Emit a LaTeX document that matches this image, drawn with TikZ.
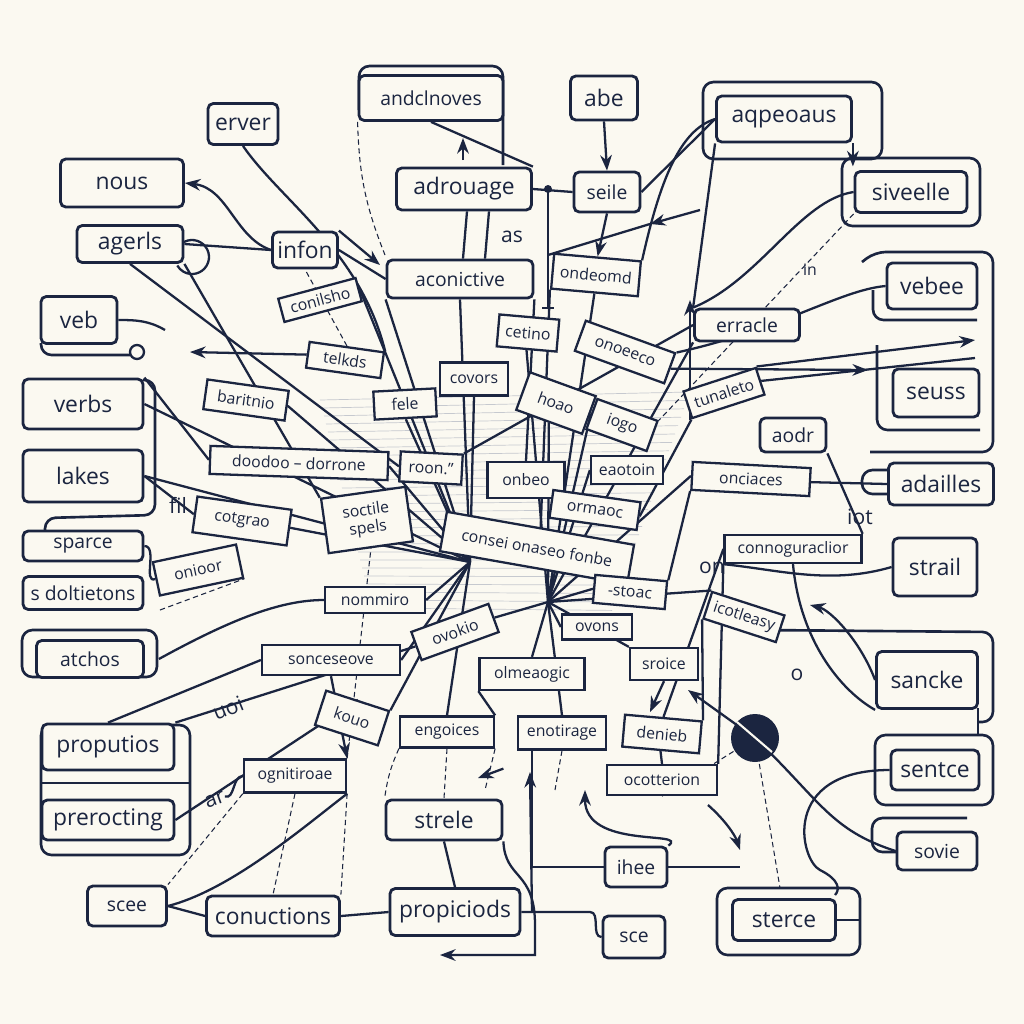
\documentclass[tikz,border=0pt]{standalone}
\usepackage{fontspec}
\setmainfont{Open Sans}
\usetikzlibrary{calc}
\usetikzlibrary{arrows.meta}

\definecolor{ink}{HTML}{1B2540}
\definecolor{paper}{HTML}{FBF9F1}

\pgfdeclarelayer{background}
\pgfsetlayers{background,main}

\tikzset{
	sz/.style 2 args={minimum width=#1*0.2mm, minimum height=#2*0.2mm},
	lbl/.style={draw=ink, text=ink, line width=1.6pt, rounded corners=3pt, fill=paper, inner sep=1pt, font=\fontsize{13}{15}\selectfont},
	mlbl/.style={lbl, font=\fontsize{11}{13}\selectfont},
	tag/.style={draw=ink, text=ink, line width=1.3pt, fill=paper, inner sep=1pt, font=\fontsize{9}{10}\selectfont},
	loose/.style={text=ink, inner sep=0pt, font=\fontsize{12}{14}\selectfont},
	frame/.style={draw=ink, line width=1.5pt, rounded corners=6pt},
	wire/.style={draw=ink, line width=1.3pt},
	faint/.style={draw=ink, line width=0.6pt, dash pattern=on 3pt off 2pt},
	hatch/.style={draw=ink!25, line width=0.4pt},
}

\begin{document}
\begin{tikzpicture}[x=0.2mm,y=-0.2mm]
	\useasboundingbox (0,0) rectangle (1024,1024);

	% left column
	\node[lbl,sz={70}{41}] (erver) at (243,124) {erver};
	\node[lbl,sz={123}{48}] (nous) at (122,183) {nous};
	\node[lbl,sz={106}{37}] (agerls) at (130,244) {agerls};
	\node[lbl,sz={65}{36}] (infon) at (305,250) {infon};
	\node[lbl,sz={76}{47}] (veb) at (79,320) {veb};
	\node[lbl,sz={120}{50}] (verbs) at (83,404) {verbs};
	\node[lbl,sz={120}{52}] (lakes) at (83,476) {lakes};
	\node[mlbl,sz={120}{30}] (sparce) at (83,546) {sparce};
	\node[mlbl,sz={120}{33}] (sdolt) at (83,593) {s doltietons};
	\node[mlbl,sz={107}{37}] (atchos) at (90,659) {atchos};
	\node[lbl,sz={132}{46}] (proputios) at (108,747) {proputios};
	\node[lbl,sz={132}{40}] (prerocting) at (108,820) {prerocting};
	\node[mlbl,sz={79}{40}] (scee) at (127,906) {scee};
	\node[lbl,sz={133}{40}] (conuctions) at (273,916) {conuctions};

	% top row
	\node[mlbl,sz={144}{45}] (andclnoves) at (431,98) {andclnoves};
	\node[lbl,sz={67}{44}] (abe) at (604,98) {abe};
	\node[lbl,sz={135}{42}] (adrouage) at (464,189) {adrouage};
	\node[mlbl,sz={66}{40}] (seile) at (607,192) {seile};
	\node[mlbl,sz={146}{38}] (aconictive) at (460,279) {aconictive};
	\node[tag,sz={87}{35},rotate=-5] (ondeomd) at (596,275) {ondeomd};
	\node[lbl,sz={135}{46}] (apopeaus) at (784,119) {aqpeoaus};
	\node[lbl,sz={112}{41}] (siveelle) at (911,192) {siveelle};

	% right column
	\node[lbl,sz={90}{46}] (vebee) at (932,286) {vebee};
	\node[lbl,sz={86}{48}] (seuss) at (936,393) {seuss};
	\node[mlbl,sz={105}{32}] (eracle) at (747,325) {erracle};
	\node[mlbl,sz={66}{34}] (aodr) at (793,435) {aodr};
	\node[lbl,sz={105}{42}] (adailles) at (941,484) {adailles};
	\node[tag,sz={118}{28},rotate=-3] (onciaces) at (751,479) {onciaces};
	\node[tag,sz={137}{28}] (connog) at (793,549) {connoguraclior};
	\node[lbl,sz={84}{58}] (strail) at (935,567) {strail};
	\node[lbl,sz={101}{57}] (sancke) at (927,680) {sancke};
	\node[lbl,sz={88}{40}] (sentce) at (935,770) {sentce};
	\node[mlbl,sz={80}{38}] (sovie) at (937,851) {sovie};
	\node[lbl,sz={103}{41}] (sterce) at (784,920) {sterce};

	% bottom
	\node[mlbl,sz={62}{42}] (sce) at (634,937) {sce};
	\node[mlbl,sz={62}{40}] (ihee) at (636,867) {ihee};
	\node[lbl,sz={130}{47}] (propiciods) at (455,912) {propiciods};
	\node[lbl,sz={116}{40}] (strele) at (444,820) {strele};
	\node[tag,sz={94}{31}] (engoices) at (447,732) {engoices};
	\node[tag,sz={88}{33}] (enotirage) at (562,733) {enotirage};
	\node[tag,sz={77}{32},rotate=-5] (denieb) at (662,734) {denieb};
	\node[tag,sz={110}{30}] (ocotterion) at (662,780) {ocotterion};
	\node[tag,sz={105}{32}] (olmeaogic) at (532,674) {olmeaogic};
	\node[tag,sz={68}{32}] (sroice) at (664,664) {sroice};
	\node[tag,sz={138}{30}] (sonceseove) at (331,660) {sonceseove};
	\node[tag,sz={102}{33}] (ognitiroae) at (295,776) {ognitiroae};
	\node[tag,sz={66}{36},rotate=-18] (kouo) at (352,718) {kouo};

	% centre
	\node[tag,sz={80}{24},rotate=15] (conilsho) at (320,300) {conilsho};
	\node[tag,sz={75}{26},rotate=-8] (teloks) at (345,360) {telkds};
	\node[tag,sz={82}{30},rotate=-8] (baritnio) at (246,400) {baritnio};
	\node[tag,sz={178}{28},rotate=-2] (doodoo) at (299,463) {doodoo -- dorrone};
	\node[tag,sz={95}{36},rotate=-8] (cotgrao) at (242,521) {cotgrao};
	\node[tag,sz={85}{34},rotate=12] (onioor) at (198,570) {onioor};
	\node[tag,sz={85}{55},rotate=8,align=center] (soctile) at (367,520) {soctile\\spels};
	\node[tag,sz={100}{26}] (nommiro) at (375,600) {nommiro};
	\node[tag,sz={62}{30},rotate=-3] (roon) at (431,468) {roon.''};
	\node[tag,sz={77}{36}] (onbeo) at (526,480) {onbeo};
	\node[tag,sz={72}{28}] (eaotoin) at (627,470) {eaotoin};
	\node[tag,sz={62}{28},rotate=3] (fele) at (405,404) {fele};
	\node[tag,sz={68}{33}] (covors) at (474,379) {covors};
	\node[tag,sz={70}{40},rotate=-20] (hoao) at (556,403) {hoao};
	\node[tag,sz={64}{32},rotate=-20] (iogo) at (622,425) {iogo};
	\node[tag,sz={60}{32},rotate=-5] (cetino) at (528,333) {cetino};
	\node[tag,sz={95}{32},rotate=-20] (onoeeco) at (625,352) {onoeeco};
	\node[tag,sz={76}{28},rotate=18] (tunaleto) at (724,393) {tunaleto};
	\node[tag,sz={88}{28},rotate=-8] (ormaoc) at (595,510) {ormaoc};
	\node[tag,sz={190}{40},rotate=-10] (consei) at (537,548) {consei onaseo fonbe};
	\node[tag,sz={72}{28},rotate=-5] (stoac) at (630,592) {-stoac};
	\node[tag,sz={70}{25}] (ovons) at (597,627) {ovons};
	\node[tag,sz={82}{30},rotate=20] (ovokio) at (455,632) {ovokio};
	\node[tag,sz={76}{28},rotate=-18] (icotleasy) at (744,617) {icotleasy};

	% loose words
	\node[loose] (as) at (512,237) {as};
	\node[loose,font=\fontsize{9}{10}\selectfont] (in) at (810,270) {in};
	\node[loose] (iot) at (860,517) {iot};
	\node[loose] (on) at (712,568) {on};
	\node[loose] (fil) at (178,505) {fil};
	\node[loose,rotate=22] (uoi) at (228,708) {uoi};
	\node[loose,rotate=20] (ar) at (215,800) {ar};
	\node[loose] (o) at (797,675) {o};

	% the dark ball
	\fill[ink] (755,738) circle (24);
	\draw[paper,line width=1.2pt] (737,722) -- (772,752);
	\coordinate (ball) at (755,738);
	\coordinate (hub) at (470,562);
	\coordinate (hubb) at (548,602);

	\begin{pgfonlayer}{background}
		\fill[paper] (0,0) rectangle (1024,1024);
		% shading in the middle
		\foreach \i in {0,...,26}
			\draw[hatch] (320+\i*2,400+\i*8) -- (690-\i*3,392+\i*8.4);

		% frames
		\draw[frame] (359,110) |- (503,66) -- (503,165);
		\draw[frame] (703,82) rectangle (882,159);
		\draw[frame] (842,158) rectangle (980,226);
		\draw[frame] (862,262) -- (875,252) -| (993,452) -- (870,452);
		\draw[frame] (873,290) |- (977,320);
		\draw[frame] (877,345) |- (980,430);
		\draw[frame] (889,470) -| (862,494) -- (889,494);
		\draw[frame] (760,630) -- (993,632) -- (993,722) -- (978,722);
		\draw[frame] (978,708) -- (978,735);
		\draw[frame] (875,735) rectangle (993,805);
		\draw[frame] (967,818) -| (872,852) -- (897,852);
		\draw[frame] (717,888) rectangle (860,955);
		\draw[frame] (41,725) rectangle (190,855);
		\draw[frame] (41,783) -- (190,783);
		\draw[frame] (143,380) -| (155,515) -- (45,518) -- (45,530);
		\draw[frame] (22,630) rectangle (157,677);
		\draw[frame] (41,343) |- (130,355);
		\draw[wire,fill=paper] (137,352) circle (7);

		% connectors on the left
		\draw[wire,-{Stealth}] (infon.west) .. controls (235,238) and (228,188) .. (nous.east);
		\draw[wire] (agerls.east) -- (infon.west);
		\draw[wire] (192,257) ++(-150:17) arc[start angle=-150,end angle=150,radius=17];
		\draw[wire] (agerls.south) -- (roon.west);
		\draw[wire] (agerls.south east) -- (soctile.north west);
		\draw[wire] (erver.south) .. controls (280,200) and (360,250) .. (teloks.north east);
		\draw[wire] (veb.east) to[out=0,in=150] (165,330);
		\draw[wire,-{Stealth}] (teloks.west) -- (190,352);
		\draw[wire] (sparce.east) to[out=0,in=200] (onioor.west);
		\draw[wire] (atchos.east) ++(14,0) .. controls (230,620) and (280,600) .. (nommiro.west);
		\draw[faint] (160,610) -- (onioor.south east);
		\draw[wire] (proputios.north) -- (sonceseove.west);
		\draw[wire] (proputios.north east) -- (ovokio.west);
		\draw[wire] (prerocting.east) -- (kouo.north);
		\draw[wire] (scee.east) .. controls (230,890) and (300,830) .. (ognitiroae.south east);
		\draw[wire] (scee.east) -- (conuctions.west);
		\draw[faint] (ognitiroae.south) -- (conuctions.north);
		\draw[faint] (ognitiroae.south east) -- (conuctions.north east);
		\draw[faint] (ognitiroae.south west) -- (scee.north east);
		\draw[wire,-{Stealth}] (sonceseove.south) -- (ognitiroae.north east);
		\draw[wire] (ar.east) to[out=-20,in=180] (ognitiroae.west);
		\draw[wire] (conuctions.east) -- (propiciods.west);
		\draw[wire] (strele.south) -- (propiciods.north);
		\draw[wire,-{Stealth}] (strele.south east) .. controls (505,880) and (535,870) .. (535,925) |- (440,955);
		\draw[wire] (propiciods.east) -- (590,912) to[out=0,in=180] (sce.west);
		\draw[wire,-{Stealth}] (532,912) -- (530,772);
		\draw[faint] (engoices.south west) to[bend right=8] (strele.north west);
		\draw[faint] (engoices.south) -- (strele.north);
		\draw[faint] (engoices.south east) -- (485,790);
		\draw[faint] (enotirage.south) -- (555,790);
		\draw[wire,-{Stealth}] (strele.north east) ++(0,-30) -- (478,778);
		\draw[wire] (olmeaogic.south west) -- (engoices.north east);
		\draw[wire] ($(enotirage.south west)+(15,0)$) |- (ihee.west);
		\draw[wire] (ihee.east) -- (740,867);
		\draw[wire,-{Stealth}] (ihee.north east) .. controls (690,830) and (585,850) .. (585,790);
		\draw[wire] (denieb.south) -- (ocotterion.north);
		\draw[wire,-{Stealth}] (sroice.south) -- (650,712);
		\draw[wire] (ball) .. controls (820,800) and (830,830) .. (sovie.west);
		\draw[wire,-{Stealth}] (ball) -- (688,690);
		\draw[faint] (ball) -- (780,888);
		\draw[wire] (sentce.west) .. controls (780,770) and (800,860) .. (820,870) .. controls (840,880) and (840,890) .. (835,895);
		\draw[wire,-{Stealth}] (708,805) .. controls (725,820) and (735,835) .. (740,850);
		\draw[wire] (sterce.east) -- (860,920);

		% connectors on the right
		\draw[wire] (strail.west) .. controls (830,585) and (780,570) .. (connog.south west);
		\draw[wire] (aodr.south east) -- (connog.north east);
		\draw[wire] (adailles.west) -- (onciaces.east);
		\draw[wire,-{Stealth}] (onoeeco.east) -- (868,370);
		\draw[wire,-{Stealth}] (tunaleto.north east) -- (975,340);
		\draw[wire] (tunaleto.east) -- (975,358);
		\draw[wire] (vebee.west) .. controls (840,290) and (780,330) .. (onoeeco.north east);
		\draw[wire] (siveelle.west) .. controls (800,200) and (760,280) .. (eracle.north west);
		\draw[wire] (apopeaus.south west) -- (eracle.north west);
		\draw[wire] (apopeaus.west) .. controls (680,130) and (660,180) .. (ondeomd.north east);
		\draw[wire,-{Stealth}] (apopeaus.south east) -- ++(0,23);
		\draw[wire] (seile.east) -- (apopeaus.west);
		\draw[wire,-{Stealth}] (690,420) -- (690,300);
		\draw[wire,-{Stealth}] (700,210) -- (650,224);
		\draw[wire] (650,224) -- (548,255);
		\draw[wire,-{Stealth}] (sancke.west) .. controls (860,640) and (830,610) .. (810,605);
		\draw[wire] (connog.south) .. controls (800,640) and (840,690) .. (sancke.south west);

		% connectors at the top
		\draw[faint] (andclnoves.south west) to[bend right=10] (385,255);
		\draw[wire] (andclnoves.south) -- (adrouage.north east);
		\draw[wire,-{Stealth}] (463,160) -- (463,138);
		\draw[wire,-{Stealth}] (abe.south) -- (seile.north);
		\draw[wire] (adrouage.east) -- (seile.west);
		\fill[ink] (548,189) circle (4);
		\draw[wire] (548,189) -- (548,308) -- ++(-6,0) -- ++(12,0);
		\draw[wire,-{Stealth}] (seile.south) -- (ondeomd.north);
		\draw[wire] ($(adrouage.south)+(3,0)$) -- ($(aconictive.north)+(3,0)$);
		\draw[wire] ($(adrouage.south)+(25,0)$) -- ($(aconictive.north)+(25,0)$);
		\draw[wire] (infon.east) -- (aconictive.west);
		\draw[wire,-{Stealth}] (infon.north east) -- (380,265);

		% lines through the middle
		\foreach \n in {aconictive.south west,aconictive.south,conilsho.east,baritnio.east,
			doodoo.east,cotgrao.east,fele.south,covors.south,nommiro.east,
			kouo.north east,sonceseove.east,verbs.east,lakes.east,engoices.north}
			\draw[wire] (hub) -- (\n);
		\foreach \n in {cetino.south,hoao.south,iogo.west,eaotoin.west,onciaces.west,
			ondeomd.south,eracle.south west,ovons.west,olmeaogic.north,sroice.north west,
			stoac.west,icotleasy.north west,enotirage.north,ovokio.east}
			\draw[wire] (hubb) -- (\n);
		\draw[wire] (aconictive.south east) -- (onbeo.north);
		\draw[wire] (ondeomd.south west) -- (consei.north);
		\draw[wire] (eracle.west) -- (roon.north east);
		\draw[wire] (tunaleto.south west) -- (ormaoc.east);
		\draw[wire] (onciaces.south west) -- (stoac.north east);
		\draw[wire] (connog.west) -- (denieb.north);
		\draw[wire] (icotleasy.south west) -- (denieb.north east);
		\draw[wire] (connog.south west) -- (ocotterion.north east);
		\draw[wire] (doodoo.west) -- (verbs.north east);
		\draw[wire] (cotgrao.west) -- (lakes.east);
		\draw[faint] (ognitiroae.north east) -- (soctile.south);
		\draw[faint] (ocotterion.south) -- (ball);
		\draw[faint] (teloks.north) -- (infon.south);
		\draw[faint] (siveelle.south west) -- (iogo.north east);
	\end{pgfonlayer}
\end{tikzpicture}
\end{document}
